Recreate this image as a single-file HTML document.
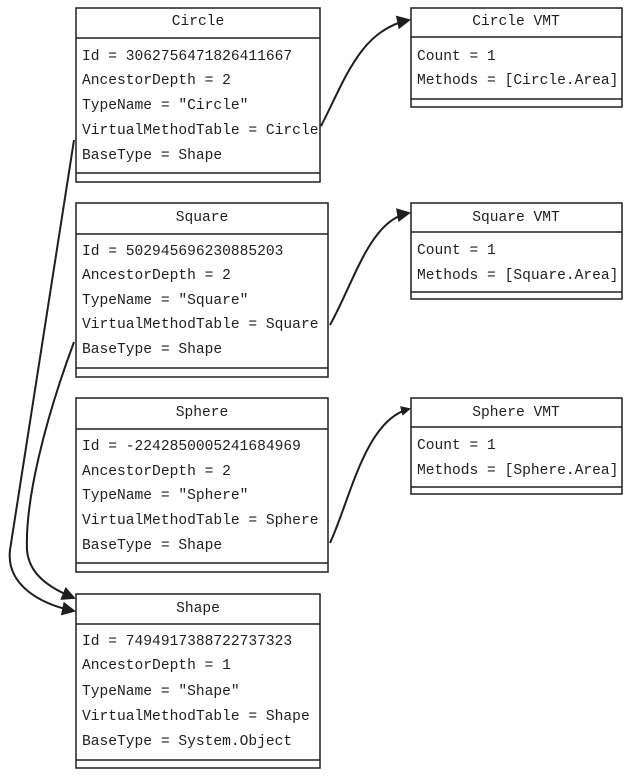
<!DOCTYPE html>
<html><head><meta charset="utf-8"><style>
html,body{margin:0;padding:0;background:#fff;}
svg{display:block;}
text{font-family:"Liberation Mono","DejaVu Sans Mono",monospace;font-size:14.6px;fill:#1e1e1e;}
.b{fill:#fff;stroke:#1e1e1e;stroke-width:1.5;}
.l{stroke:#1e1e1e;stroke-width:1.5;}
.a{fill:none;stroke:#1e1e1e;stroke-width:2;}
</style></head><body>
<svg width="637" height="776" viewBox="0 0 637 776">
<defs><marker id="m" markerWidth="10" markerHeight="10" refX="8" refY="5" orient="auto" markerUnits="userSpaceOnUse"><path d="M0,0 L10,5 L0,10 z" fill="#1e1e1e"/></marker>
<marker id="m2" markerWidth="14" markerHeight="14" refX="12" refY="7" orient="auto" markerUnits="userSpaceOnUse"><path d="M0,0 L14,7 L0,14 z" fill="#1e1e1e"/></marker></defs>

<!-- Circle -->
<rect class="b" x="76" y="8" width="244" height="174"/>
<line class="l" x1="76" y1="38" x2="320" y2="38"/>
<line class="l" x1="76" y1="173" x2="320" y2="173"/>
<text x="198" y="25" text-anchor="middle">Circle</text>
<text x="82" y="60">Id = 3062756471826411667</text>
<text x="82" y="84">AncestorDepth = 2</text>
<text x="82" y="109">TypeName = "Circle"</text>
<text x="82" y="134">VirtualMethodTable = Circle</text>
<text x="82" y="159">BaseType = Shape</text>

<!-- Square -->
<rect class="b" x="76" y="203" width="252" height="174"/>
<line class="l" x1="76" y1="234" x2="328" y2="234"/>
<line class="l" x1="76" y1="368" x2="328" y2="368"/>
<text x="202" y="221" text-anchor="middle">Square</text>
<text x="82" y="255">Id = 502945696230885203</text>
<text x="82" y="279">AncestorDepth = 2</text>
<text x="82" y="304">TypeName = "Square"</text>
<text x="82" y="328">VirtualMethodTable = Square</text>
<text x="82" y="353">BaseType = Shape</text>

<!-- Sphere -->
<rect class="b" x="76" y="398" width="252" height="174"/>
<line class="l" x1="76" y1="429" x2="328" y2="429"/>
<line class="l" x1="76" y1="563" x2="328" y2="563"/>
<text x="202" y="416" text-anchor="middle">Sphere</text>
<text x="82" y="450">Id = -2242850005241684969</text>
<text x="82" y="475">AncestorDepth = 2</text>
<text x="82" y="499">TypeName = "Sphere"</text>
<text x="82" y="524">VirtualMethodTable = Sphere</text>
<text x="82" y="549">BaseType = Shape</text>

<!-- Shape -->
<rect class="b" x="76" y="594" width="244" height="174"/>
<line class="l" x1="76" y1="624" x2="320" y2="624"/>
<line class="l" x1="76" y1="760" x2="320" y2="760"/>
<text x="198" y="612" text-anchor="middle">Shape</text>
<text x="82" y="645">Id = 7494917388722737323</text>
<text x="82" y="669">AncestorDepth = 1</text>
<text x="82" y="695">TypeName = "Shape"</text>
<text x="82" y="720">VirtualMethodTable = Shape</text>
<text x="82" y="745">BaseType = System.Object</text>

<!-- VMTs -->
<rect class="b" x="411" y="8" width="211" height="99"/>
<line class="l" x1="411" y1="37" x2="622" y2="37"/>
<line class="l" x1="411" y1="99" x2="622" y2="99"/>
<text x="516" y="25" text-anchor="middle">Circle VMT</text>
<text x="417" y="60">Count = 1</text>
<text x="417" y="84">Methods = [Circle.Area]</text>

<rect class="b" x="411" y="203" width="211" height="96"/>
<line class="l" x1="411" y1="232" x2="622" y2="232"/>
<line class="l" x1="411" y1="292" x2="622" y2="292"/>
<text x="516" y="221" text-anchor="middle">Square VMT</text>
<text x="417" y="254">Count = 1</text>
<text x="417" y="279">Methods = [Square.Area]</text>

<rect class="b" x="411" y="398" width="211" height="96"/>
<line class="l" x1="411" y1="427" x2="622" y2="427"/>
<line class="l" x1="411" y1="487" x2="622" y2="487"/>
<text x="516" y="416" text-anchor="middle">Sphere VMT</text>
<text x="417" y="449">Count = 1</text>
<text x="417" y="474">Methods = [Sphere.Area]</text>

<!-- arrows -->
<path class="a" d="M321,126 C345,80 360,30 409,20" marker-end="url(#m2)"/>
<path class="a" d="M330,325 C355,280 370,220 409,213" marker-end="url(#m2)"/>
<path class="a" d="M330,543 C350,500 365,420 409,409" marker-end="url(#m)"/>
<path class="a" d="M74,140 L10,550 C6,585 40,604 74,611" marker-end="url(#m2)"/>
<path class="a" d="M74,342 C45,420 25,500 27,550 C29,575 50,588 74,598" marker-end="url(#m2)"/>
</svg>
</body></html>
